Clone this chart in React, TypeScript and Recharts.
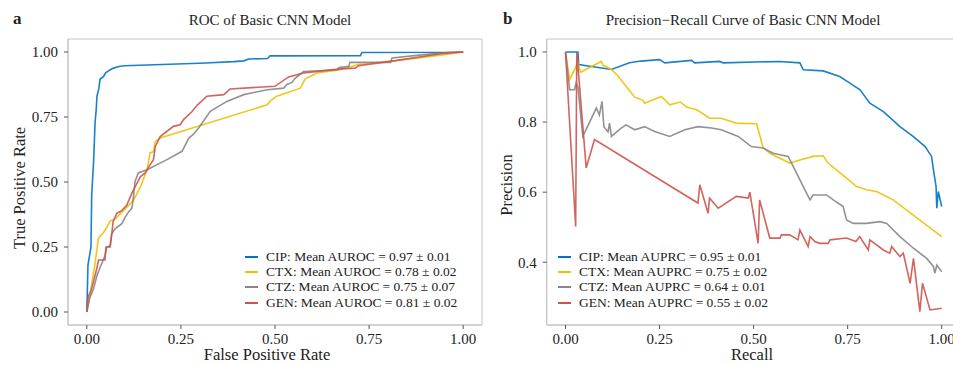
import React from 'react';
import { LineChart, Line, XAxis, YAxis, ReferenceArea, Legend, Label } from 'recharts';

const FONT = '"Liberation Serif", "Times New Roman", serif';
const TXT = '#222222';
const SPINE = '#c4c4c4';

// series names and colours (JCO-like palette)
const drugs = ['CIP', 'CTX', 'CTZ', 'GEN'];
const colors = ['#0073C2', '#EFC000', '#868686', '#CD534C'];
const aurocLabels = ['0.97 ± 0.01', '0.78 ± 0.02', '0.75 ± 0.07', '0.81 ± 0.02'];
const auprcLabels = ['0.95 ± 0.01', '0.75 ± 0.02', '0.64 ± 0.01', '0.55 ± 0.02'];

const xTicks = [0, 0.25, 0.5, 0.75, 1];
const rocYTicks = [0, 0.25, 0.5, 0.75, 1];
const prYTicks = [0.4, 0.6, 0.8, 1.0];

// ROC curves: [FPR, TPR]
const cipRoc: [number, number][] = [
  [0, 0], [0.003, 0.18], [0.011, 0.25], [0.013, 0.45], [0.018, 0.58], [0.022, 0.73], [0.025, 0.78],
  [0.027, 0.83], [0.032, 0.86], [0.035, 0.895], [0.044, 0.905], [0.05, 0.92], [0.06, 0.93], [0.071, 0.938],
  [0.085, 0.944], [0.1, 0.947], [0.2, 0.952], [0.3, 0.957], [0.39, 0.963], [0.417, 0.966], [0.43, 0.973],
  [0.48, 0.975], [0.487, 0.985], [0.727, 0.986], [0.731, 0.998], [0.98, 0.999], [1, 1],
];
const ctxRoc: [number, number][] = [
  [0, 0], [0.009, 0.07], [0.022, 0.19], [0.031, 0.285], [0.044, 0.305], [0.053, 0.325], [0.062, 0.35],
  [0.075, 0.357], [0.097, 0.39], [0.124, 0.43], [0.142, 0.48], [0.16, 0.547], [0.168, 0.612], [0.177, 0.617],
  [0.182, 0.656], [0.195, 0.669], [0.479, 0.797], [0.489, 0.814], [0.505, 0.83], [0.567, 0.861], [0.58, 0.896],
  [0.611, 0.919], [0.674, 0.932], [0.718, 0.951], [0.842, 0.97], [0.95, 0.99], [1, 1],
];
const ctzRoc: [number, number][] = [
  [0, 0], [0.007, 0.05], [0.018, 0.09], [0.027, 0.14], [0.035, 0.17], [0.048, 0.215], [0.053, 0.25],
  [0.062, 0.255], [0.066, 0.3], [0.075, 0.32], [0.093, 0.34], [0.102, 0.365], [0.111, 0.385], [0.12, 0.4],
  [0.124, 0.445], [0.128, 0.502], [0.137, 0.535], [0.16, 0.547], [0.213, 0.586], [0.253, 0.618], [0.271, 0.669],
  [0.283, 0.683], [0.297, 0.708], [0.328, 0.772], [0.372, 0.81], [0.417, 0.836], [0.479, 0.855], [0.523, 0.861],
  [0.532, 0.875], [0.545, 0.883], [0.554, 0.9], [0.576, 0.925], [0.665, 0.932], [0.67, 0.94], [0.696, 0.945],
  [0.699, 0.96], [0.807, 0.96], [0.811, 0.977], [0.896, 0.99], [0.975, 1], [1, 1],
];
const genRoc: [number, number][] = [
  [0, 0], [0.004, 0.06], [0.013, 0.09], [0.027, 0.17], [0.031, 0.2], [0.048, 0.2], [0.051, 0.25],
  [0.062, 0.25], [0.066, 0.297], [0.07, 0.348], [0.08, 0.38], [0.093, 0.39], [0.106, 0.41], [0.12, 0.458],
  [0.128, 0.48], [0.142, 0.52], [0.155, 0.535], [0.168, 0.566], [0.177, 0.586], [0.182, 0.637], [0.195, 0.675],
  [0.23, 0.714], [0.248, 0.72], [0.257, 0.74], [0.279, 0.77], [0.293, 0.795], [0.319, 0.83], [0.364, 0.836],
  [0.381, 0.858], [0.5, 0.868], [0.536, 0.904], [0.576, 0.919], [0.674, 0.935], [0.713, 0.938], [0.722, 0.947],
  [0.807, 0.964], [0.94, 0.993], [1, 1],
];

// Precision-recall curves: [recall, precision]
const cipPr: [number, number][] = [
  [0, 1], [0.033, 1], [0.035, 0.964], [0.122, 0.95], [0.17, 0.969], [0.2, 0.974], [0.25, 0.978], [0.264, 0.969],
  [0.335, 0.976], [0.343, 0.969], [0.41, 0.973], [0.419, 0.969], [0.57, 0.973], [0.623, 0.969], [0.632, 0.949],
  [0.685, 0.946], [0.729, 0.93], [0.756, 0.911], [0.783, 0.892], [0.809, 0.854], [0.845, 0.83], [0.889, 0.787],
  [0.924, 0.759], [0.956, 0.73], [0.973, 0.702], [0.978, 0.664], [0.985, 0.617], [0.987, 0.554], [0.991, 0.602],
  [1, 0.559],
];
const ctxPr: [number, number][] = [
  [0, 1], [0.011, 0.921], [0.033, 0.969], [0.04, 0.942], [0.095, 0.973], [0.1, 0.962], [0.122, 0.95],
  [0.139, 0.932], [0.161, 0.902], [0.184, 0.871], [0.206, 0.862], [0.21, 0.854], [0.255, 0.873], [0.277, 0.849],
  [0.305, 0.857], [0.323, 0.842], [0.349, 0.835], [0.383, 0.811], [0.414, 0.811], [0.454, 0.797], [0.508, 0.795],
  [0.525, 0.728], [0.543, 0.711], [0.57, 0.697], [0.596, 0.683], [0.623, 0.692], [0.658, 0.702], [0.685, 0.704],
  [0.698, 0.683], [0.725, 0.659], [0.747, 0.64], [0.774, 0.616], [0.8, 0.607], [0.827, 0.602], [0.871, 0.578],
  [1, 0.473],
];
const ctzPr: [number, number][] = [
  [0, 1], [0.011, 0.892], [0.024, 0.892], [0.028, 0.911], [0.033, 0.9], [0.046, 0.759], [0.082, 0.84],
  [0.09, 0.82], [0.097, 0.859], [0.102, 0.787], [0.113, 0.772], [0.117, 0.797], [0.122, 0.759], [0.148, 0.783],
  [0.161, 0.792], [0.184, 0.778], [0.21, 0.787], [0.237, 0.773], [0.277, 0.759], [0.317, 0.778], [0.352, 0.787],
  [0.388, 0.783], [0.414, 0.778], [0.459, 0.759], [0.494, 0.73], [0.525, 0.726], [0.552, 0.711], [0.592, 0.702],
  [0.601, 0.683], [0.636, 0.607], [0.65, 0.578], [0.658, 0.592], [0.694, 0.592], [0.712, 0.578], [0.738, 0.559],
  [0.747, 0.521], [0.765, 0.511], [0.8, 0.511], [0.836, 0.516], [0.854, 0.511], [0.889, 0.473], [0.925, 0.44],
  [0.96, 0.411], [0.978, 0.388], [0.982, 0.369], [0.987, 0.392], [1, 0.373],
];
const genPr: [number, number][] = [
  [0, 1], [0.027, 0.502], [0.03, 1], [0.055, 0.669], [0.077, 0.75], [0.352, 0.569], [0.357, 0.621],
  [0.379, 0.54], [0.383, 0.583], [0.406, 0.554], [0.454, 0.588], [0.486, 0.583], [0.49, 0.6], [0.512, 0.454],
  [0.516, 0.578], [0.543, 0.469], [0.57, 0.469], [0.574, 0.478], [0.596, 0.478], [0.618, 0.464], [0.623, 0.492],
  [0.645, 0.445], [0.65, 0.473], [0.663, 0.459], [0.676, 0.454], [0.698, 0.454], [0.703, 0.464], [0.747, 0.469],
  [0.772, 0.459], [0.782, 0.473], [0.805, 0.435], [0.809, 0.464], [0.845, 0.435], [0.862, 0.426], [0.867, 0.445],
  [0.889, 0.416], [0.898, 0.426], [0.916, 0.34], [0.925, 0.411], [0.942, 0.259], [0.949, 0.34], [0.969, 0.264],
  [1, 0.269],
];

const rocCurves = [cipRoc, ctxRoc, ctzRoc, genRoc];
const prCurves = [cipPr, ctxPr, ctzPr, genPr];

const toRows = (pts: [number, number][]) => pts.map(([x, y]) => ({ x, y }));

const tickStyle = { fontSize: 15, fill: TXT, fontFamily: FONT };

const renderLegend = (props: any) => (
  <div style={{ fontFamily: FONT, fontSize: 13.5, color: TXT, whiteSpace: 'nowrap' }}>
    {(props.payload || []).map((e: any, i: number) => (
      <div key={`leg-${i}`} style={{ display: 'flex', alignItems: 'center', height: 15.2 }}>
        <span style={{ display: 'inline-block', width: 13, height: 0, borderTop: `2px solid ${e.color}`, marginRight: 8 }} />
        <span>{e.value}</span>
      </div>
    ))}
  </div>
);

interface PanelProps {
  curves: [number, number][][];
  labels: string[];
  metric: string;
  yDomain: [number, number];
  yTicks: number[];
  yFmt: (v: number) => string;
  legendLeft: number;
  xLabel: string;
  xLabelX: number;
  yLabel: string;
  yLabelX: number;
  yLabelY: number;
  yAxisWidth: number;
  marginLeft: number;
  marginRight: number;
}

const Panel: React.FC<PanelProps> = (p) => (
  <LineChart width={490} height={365} margin={{ top: 39, right: p.marginRight, bottom: 0, left: p.marginLeft }}>
    <XAxis
      type="number"
      dataKey="x"
      domain={[-0.05, 1.05]}
      ticks={xTicks}
      allowDataOverflow
      tickFormatter={(v: number) => v.toFixed(2)}
      tick={tickStyle}
      tickSize={4}
      tickMargin={4}
      tickLine={{ stroke: '#555' }}
      axisLine={{ stroke: SPINE }}
      height={40}
    >
      <Label
        content={() => (
          <text x={p.xLabelX} y={360} textAnchor="middle" fontFamily={FONT} fontSize={16.5} fill={TXT}>
            {p.xLabel}
          </text>
        )}
      />
    </XAxis>
    <YAxis
      type="number"
      dataKey="y"
      domain={p.yDomain}
      ticks={p.yTicks}
      allowDataOverflow
      tickFormatter={p.yFmt}
      tick={tickStyle}
      tickSize={4}
      tickMargin={6}
      tickLine={{ stroke: '#555' }}
      axisLine={{ stroke: SPINE }}
      width={p.yAxisWidth}
    >
      <Label
        content={() => (
          <text
            x={p.yLabelX}
            y={p.yLabelY}
            textAnchor="middle"
            dominantBaseline="central"
            transform={`rotate(-90 ${p.yLabelX} ${p.yLabelY})`}
            fontFamily={FONT}
            fontSize={16.5}
            fill={TXT}
          >
            {p.yLabel}
          </text>
        )}
      />
    </YAxis>
    <ReferenceArea x1={-0.05} x2={1.05} y1={p.yDomain[0]} y2={p.yDomain[1]} fill="none" stroke={SPINE} strokeWidth={1} ifOverflow="extendDomain" />
    {p.curves.map((c, i) => (
      <Line
        key={drugs[i]}
        data={toRows(c)}
        dataKey="y"
        name={`${drugs[i]}: Mean ${p.metric} = ${p.labels[i]}`}
        type="linear"
        stroke={colors[i]}
        strokeWidth={1.6}
        strokeOpacity={0.9}
        dot={false}
        activeDot={false}
        isAnimationActive={false}
      />
    ))}
    <Legend
      layout="vertical"
      align="center"
      verticalAlign="middle"
      content={renderLegend}
      wrapperStyle={{ left: p.legendLeft, top: 249.5, width: 'auto' }}
    />
  </LineChart>
);

export default function App() {
  return (
    <div style={{ position: 'absolute', left: 0, top: 0, width: 953, height: 365, overflow: 'hidden', background: '#fff' }}>
      <div style={{ position: 'absolute', left: 0, top: 0 }}>
        <Panel
          curves={rocCurves}
          labels={aurocLabels}
          metric="AUROC"
          yDomain={[-0.05, 1.05]}
          yTicks={rocYTicks}
          yFmt={(v) => v.toFixed(2)}
          legendLeft={245}
          xLabel="False Positive Rate"
          xLabelX={267}
          yLabel="True Positive Rate"
          yLabelX={19}
          yLabelY={188}
          yAxisWidth={60}
          marginLeft={8}
          marginRight={8}
        />
      </div>
      <div style={{ position: 'absolute', left: 480, top: 0 }}>
        <Panel
          curves={prCurves}
          labels={auprcLabels}
          metric="AUPRC"
          yDomain={[0.221, 1.037]}
          yTicks={prYTicks}
          yFmt={(v) => v.toFixed(1)}
          legendLeft={78}
          xLabel="Recall"
          xLabelX={272}
          yLabel="Precision"
          yLabelX={26}
          yLabelY={185}
          yAxisWidth={60}
          marginLeft={6.7}
          marginRight={9.5}
        />
      </div>
      <div style={{ position: 'absolute', left: 13, top: 9, fontFamily: FONT, fontWeight: 'bold', fontSize: 17, color: TXT }}>a</div>
      <div style={{ position: 'absolute', left: 503, top: 9, fontFamily: FONT, fontWeight: 'bold', fontSize: 17, color: TXT }}>b</div>
      <div style={{ position: 'absolute', left: 270, top: 12, transform: 'translateX(-50%)', fontFamily: FONT, fontSize: 15, color: TXT, whiteSpace: 'nowrap' }}>
        ROC of Basic CNN Model
      </div>
      <div style={{ position: 'absolute', left: 743, top: 12, transform: 'translateX(-50%)', fontFamily: FONT, fontSize: 15, color: TXT, whiteSpace: 'nowrap' }}>
        Precision−Recall Curve of Basic CNN Model
      </div>
    </div>
  );
}
